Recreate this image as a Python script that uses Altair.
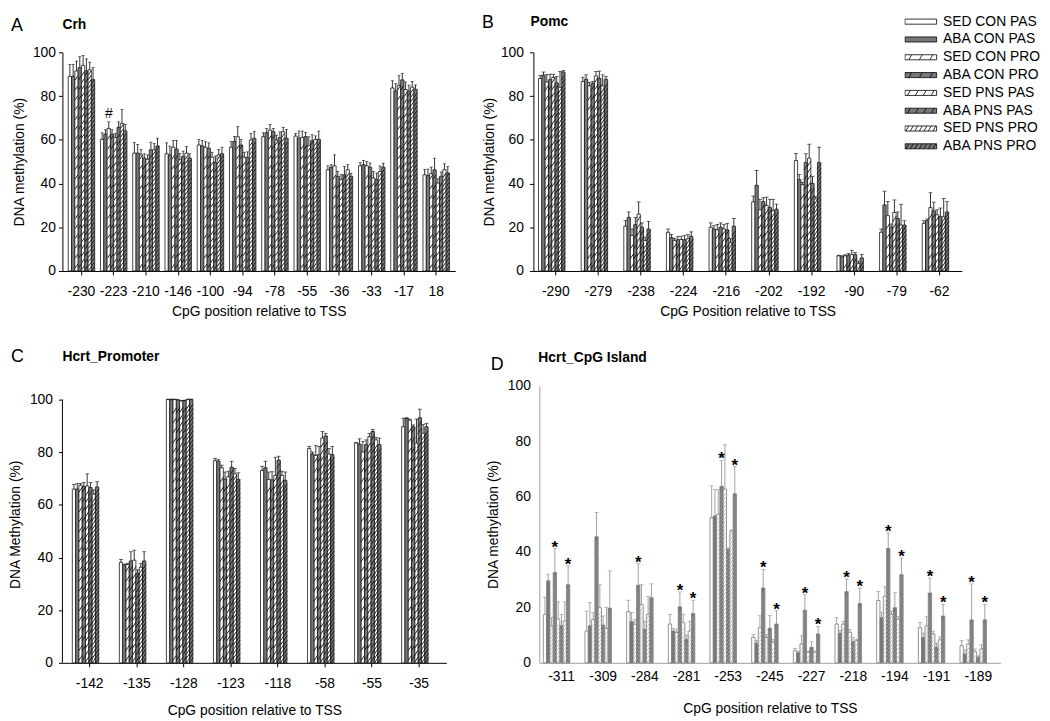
import altair as alt
import pandas as pd

FONT = "Liberation Sans"

SERIES = ["SED CON PAS", "ABA CON PAS", "SED CON PRO", "ABA CON PRO",
          "SED PNS PAS", "ABA PNS PAS", "SED PNS PRO", "ABA PNS PRO"]
FILLS = ["#ffffff", "#787878", "#ffffff", "#787878",
         "#ffffff", "#787878", "#ffffff", "#787878"]
HATCH_STEP_PX = [0, 0, 10, 10, 7, 7, 4.5, 4.5]
LEGEND_SLASHES = [0, 0, 3, 3, 4, 4, 7, 7]

# ---------------- Panel A : Crh ----------------
crh_pos = ["-230", "-223", "-210", "-146", "-100", "-94", "-78", "-55", "-36", "-33", "-17", "18"]
crh_mean = [
    [89, 89, 91.5, 93, 94, 91.5, 92, 87.5],
    [60.2, 62.6, 65.2, 62.6, 61, 65.7, 67.5, 64.1],
    [53.9, 53.9, 53.1, 51.6, 51.1, 55.4, 55.4, 57.2],
    [53.6, 53.1, 56.6, 55.7, 50.8, 52.3, 53.9, 51.6],
    [57.6, 57.2, 56.6, 56.1, 52, 49.6, 53.1, 53.6],
    [56.6, 59.2, 61.4, 57.6, 52, 52, 59.9, 60.7],
    [61.4, 63.2, 64.4, 63.7, 59.9, 61, 63.7, 60.7],
    [61.7, 60.7, 61.1, 61.4, 57.2, 59.6, 60.2, 60.2],
    [46.3, 47.5, 48.1, 43.3, 41.8, 44, 46.3, 43.3],
    [48.1, 48.6, 48.1, 47.4, 42.5, 41.8, 45.5, 47.5],
    [83.7, 82.3, 84.9, 87.4, 83, 82.3, 84.1, 83.1],
    [44, 43.6, 44.5, 46.3, 40.2, 43.3, 46.3, 44.8],
]
crh_err = [
    [5.5, 5.5, 4.5, 5, 4.5, 5.5, 3.5, 5.5],
    [3, 2, 3, 2, 2, 2.5, 6.3, 3],
    [4.8, 4, 2.5, 2, 2, 3.5, 3, 3.5],
    [5, 4, 3, 4, 3, 2.5, 3, 2],
    [2.6, 2.5, 2.5, 2.5, 2.3, 3, 2.5, 3],
    [2.6, 2.3, 4.6, 2.6, 2.3, 2.5, 3, 3],
    [1.8, 2, 2.6, 1.5, 2.2, 2.6, 2, 4],
    [1.2, 3.3, 2.9, 2, 4.2, 2.7, 1.6, 3.8],
    [1.8, 1.1, 5, 2.3, 2.3, 3.8, 2.3, 1.4],
    [1.5, 2, 2, 2, 3, 3, 2.5, 1.8],
    [3.3, 3.4, 4.4, 3, 3.4, 2.7, 2.6, 2],
    [2.5, 3, 3, 5.3, 2, 2, 2.7, 3],
]
crh_marks = [[], [2], [], [], [], [], [], [], [], [], [], []]

# ---------------- Panel B : Pomc ----------------
pomc_pos = ["-290", "-279", "-238", "-224", "-216", "-202", "-192", "-90", "-79", "-62"]
pomc_mean = [
    [88, 89.5, 86.5, 87.5, 88.5, 86, 84, 91],
    [86.6, 87.7, 84.7, 85.7, 89.2, 88.1, 84.7, 87.7],
    [20.5, 24.5, 16.2, 21.2, 26, 20, 14, 19.2],
    [17.7, 15.2, 14, 14.3, 14.4, 14.3, 14.7, 15.9],
    [20, 19.2, 18.8, 20, 19.2, 18.8, 12.9, 20.5],
    [31.6, 39.2, 28, 31.7, 30, 29, 27.5, 28.3],
    [50.5, 41.8, 39.5, 49.6, 51.6, 40, 33, 49.6],
    [6.9, 6.5, 6.9, 7.2, 7.5, 7.5, 3.5, 6],
    [17.7, 30.2, 25.3, 20, 26.8, 24, 21, 21],
    [21.8, 23, 29, 27.5, 25.7, 24.8, 24.8, 27],
]
pomc_err = [
    [1.5, 1.5, 3.4, 2.5, 1.5, 3, 7.2, 0.6],
    [2, 2, 1.5, 1, 2, 3.3, 5, 1.2],
    [2.5, 2.5, 3, 3.2, 5.6, 2, 1.5, 3.5],
    [1.5, 1.5, 1, 1.5, 1.5, 2, 2, 2],
    [2, 1.5, 2.5, 2, 2, 3, 2, 3.5],
    [2.7, 6.8, 4.8, 1.8, 3.8, 3.8, 5.3, 2.3],
    [3.3, 2.3, 1, 4, 6.4, 3.3, 1, 7],
    [0.3, 0.5, 0.5, 0.8, 2, 1, 1, 1.5],
    [1.5, 6.3, 6.5, 1.5, 5.7, 3, 9.5, 2],
    [1.2, 0.8, 6.8, 4, 2.3, 4, 8.4, 4.7],
]

# ---------------- Panel C : Hcrt promoter ----------------
hcrtp_pos = ["-142", "-135", "-128", "-123", "-118", "-58", "-55", "-35"]
hcrtp_mean = [
    [66, 66, 67.5, 67, 67.2, 66.6, 64.1, 66.8],
    [38.2, 37.2, 37.4, 38.7, 39, 34, 36.3, 38.7],
    [100, 100, 100, 99.8, 99.5, 99.6, 100, 100],
    [76.8, 76.6, 74.1, 69.7, 70.7, 74.3, 71.8, 69.7],
    [73.1, 74.1, 69.7, 69.5, 71.2, 77, 71.2, 69.3],
    [81.4, 79.3, 78.8, 79.1, 85.4, 86.2, 79.3, 79.1],
    [83.5, 83.1, 80.1, 82.9, 85.9, 87.9, 84.7, 82.9],
    [89.7, 92.9, 92.2, 89.7, 83.5, 93.1, 87.2, 89.7],
]
hcrtp_err = [
    [1.8, 2.1, 0.6, 1.5, 4.6, 1.9, 1.6, 2],
    [1.1, 0.3, 0.4, 3.5, 3.8, 1.3, 1.5, 3.5],
    [0.2, 0.2, 0.2, 0.2, 0.2, 0.2, 0.2, 0.2],
    [0.9, 0.6, 1, 2.8, 2.1, 2.3, 2, 2.5],
    [1.6, 2.5, 2.8, 3.1, 6.9, 1.5, 1.6, 3.2],
    [0.8, 0.8, 3.8, 3.1, 2.5, 1, 2.1, 3.1],
    [0.2, 2, 4, 1.8, 1.3, 0.8, 0.9, 2.5],
    [3.2, 0.2, 0.4, 0.7, 9.1, 3.3, 3.4, 1.3],
]

# ---------------- Panel D : Hcrt CpG island ----------------
hcrtc_pos = ["-311", "-309", "-284", "-281", "-253", "-245", "-227", "-218", "-194", "-191", "-189"]
hcrtc_mean = [
    [17.5, 29.6, 13.3, 32.6, 15.8, 13.4, 15.1, 28.2],
    [11.5, 13.4, 15.6, 45.5, 19.9, 13.6, 12.4, 19.7],
    [18.5, 14.9, 13.9, 28, 21, 12.1, 17.5, 23.5],
    [14, 11.5, 11, 20.2, 14.5, 8.5, 11.5, 17.8],
    [52.4, 53, 53.6, 63.7, 62.7, 41, 47.5, 61],
    [9.2, 7.1, 12.7, 27, 9.2, 12.5, 7.4, 14],
    [4.4, 3.6, 6.8, 19, 3.8, 5.6, 3.8, 10.4],
    [14, 10.7, 14, 25.7, 11, 7.6, 8, 21.4],
    [22.5, 16.3, 24, 41.3, 17.5, 19.9, 15.7, 31.8],
    [12.7, 9.2, 13.3, 25.2, 10.4, 5.6, 8.3, 16.9],
    [6.2, 3.2, 6.8, 15.5, 4, 2, 5, 15.5],
]
hcrtc_err = [
    [6.2, 2.4, 3, 8.6, 6.2, 4.1, 6.9, 6.8],
    [7.2, 8.3, 2.5, 8.8, 8.3, 3.3, 7.6, 13.5],
    [4.1, 3.3, 1.8, 7.8, 7.2, 2.9, 6.5, 5],
    [3.5, 1, 1, 5.4, 3, 1.5, 3.5, 4.8],
    [11.5, 9.6, 9, 9.4, 16, 0.5, 0.5, 9.8],
    [1, 1, 4.3, 6.7, 1, 4.6, 1, 4.8],
    [0.8, 0.5, 3, 5.6, 0.5, 2, 0.5, 2.7],
    [2.3, 1, 1, 4.5, 1, 1.5, 0.5, 5.6],
    [3.3, 2, 3.5, 5.6, 1, 5.4, 1, 6],
    [1.8, 1.5, 3.3, 5.4, 1, 1.5, 1, 4.2],
    [1.8, 1.5, 1.5, 13, 1, 0.5, 1.5, 5.6],
]
hcrtc_marks = [[3, 7], [], [3], [3, 7], [3, 7], [3, 7], [3, 7], [3, 7], [3, 7], [3, 7], [3, 7]]


def legend_path(n):
    p = "M-1,-0.16L1,-0.16L1,0.16L-1,0.16Z"
    for k in range(n):
        cx = -1 + 2 * (k + 0.5) / n
        p += f"M{cx - 0.09:.3f},0.16L{cx + 0.09:.3f},-0.16"
    return p


def long_table(pos, mean, err):
    rows = []
    for i, p in enumerate(pos):
        for j, s in enumerate(SERIES):
            rows.append({"pos": p, "series": s, "sidx": j,
                         "mean": mean[i][j], "hi": mean[i][j] + err[i][j]})
    return pd.DataFrame(rows)


def hatch_table(df, ppu, steps, seg_px):
    rows = []
    for r in df.itertuples():
        st = steps[r.sidx]
        if st <= 0:
            continue
        top = r.mean * ppu
        y = st / 2
        while y + seg_px / 2 <= top:
            rows.append({"pos": r.pos, "series": r.series, "hy": y / ppu})
            y += st
    return pd.DataFrame(rows)


def mark_table(df, pos, marks):
    rows = []
    for i, p in enumerate(pos):
        for j in marks[i]:
            r = df[(df.pos == p) & (df.sidx == j)].iloc[0]
            rows.append({"pos": p, "series": r.series, "hi": r.hi})
    return pd.DataFrame(rows)


def panel(pos, mean, err, *, w, h, ymax, pi, po, bar_w, title, title_xy, letter, lxy,
          yaxis, xaxis, ytitle, xtitle, hatch_color, hatch_w, hatch_steps,
          err_color, bar_stroke, marks=None, mark_char="*", mark_size=17,
          mark_weight="bold", mark_dy=3, legend=None, yline=False):
    df = long_table(pos, mean, err)
    ppu = h / ymax
    seg = 1.5 * (bar_w - 0.6)
    hdf = hatch_table(df, ppu, hatch_steps, seg)

    xs = alt.Scale(domain=pos, paddingInner=pi, paddingOuter=po)
    X = alt.X("pos:N", scale=xs, axis=xaxis, title=xtitle)
    XO = alt.XOffset("series:N", scale=alt.Scale(domain=SERIES, paddingInner=0, paddingOuter=0))
    ysc = alt.Scale(domain=[0, ymax], nice=False, zero=True)

    def Y(f):
        return alt.Y(f, scale=ysc, axis=yaxis, title=ytitle)

    fill_scale = alt.Scale(domain=SERIES, range=FILLS)

    bars = alt.Chart(df).mark_bar(stroke=bar_stroke, strokeWidth=0.8).encode(
        x=X, xOffset=XO, y=Y("mean:Q"),
        fill=alt.Fill("series:N", scale=fill_scale,
                      legend=legend if legend is not None else None))
    hatch = alt.Chart(hdf).mark_point(
        shape="M-1,1.5L1,-1.5", filled=False, stroke=hatch_color,
        strokeWidth=hatch_w, size=(bar_w - 0.6) ** 2, opacity=1).encode(
        x=X, xOffset=XO, y=Y("hy:Q"))
    erule = alt.Chart(df).mark_rule(color=err_color, strokeWidth=0.8).encode(
        x=X, xOffset=XO, y=Y("mean:Q"), y2="hi:Q")
    ecap = alt.Chart(df).mark_tick(color=err_color, thickness=0.8, size=bar_w - 0.4).encode(
        x=X, xOffset=XO, y=Y("hi:Q"))
    layers = [bars, hatch, erule, ecap]

    if marks is not None:
        mdf = mark_table(df, pos, marks)
        layers.append(alt.Chart(mdf).mark_text(
            text=mark_char, font=FONT, fontSize=mark_size, fontWeight=mark_weight,
            baseline="alphabetic", dy=mark_dy, color="black").encode(
            x=X, xOffset=XO, y=Y("hi:Q")))

    if yline:
        ldf = pd.DataFrame({"lo": [0], "top": [100]})
        layers.append(alt.Chart(ldf).mark_rule(color="black", strokeWidth=1).encode(
            x=alt.value(0), y=Y("lo:Q"), y2="top:Q"))

    ldf2 = pd.DataFrame({"letter": [letter], "title": [title]})
    layers.append(alt.Chart(ldf2).mark_text(
        align="left", baseline="middle", font=FONT, fontSize=18, color="black").encode(
        text="letter:N", x=alt.value(lxy[0]), y=alt.value(lxy[1])))
    layers.append(alt.Chart(ldf2).mark_text(
        align="left", baseline="middle", font=FONT, fontSize=14, fontWeight="bold",
        color="black").encode(
        text="title:N", x=alt.value(title_xy[0]), y=alt.value(title_xy[1])))

    if legend is not None:
        shape_scale = alt.Scale(domain=SERIES, range=[legend_path(n) for n in LEGEND_SLASHES])
        dummy = alt.Chart(df).transform_filter("datum.mean < 0").mark_point(
            filled=True, stroke="black", strokeWidth=0.8, opacity=1).encode(
            x=X, xOffset=XO, y=Y("mean:Q"),
            fill=alt.Fill("series:N", scale=fill_scale, legend=legend),
            shape=alt.Shape("series:N", scale=shape_scale, legend=legend))
        layers.append(dummy)

    return alt.layer(*layers).properties(width=w, height=h)


TICKS = [0, 20, 40, 60, 80, 100]


def std_yaxis(label_pad, title_pad, domain=True):
    return alt.Axis(values=TICKS, domain=domain, domainColor="black", domainWidth=1,
                    ticks=True, tickColor="black", tickSize=4, tickWidth=1,
                    labelPadding=label_pad, titlePadding=title_pad, grid=False)


def std_xaxis(label_pad, title_pad):
    return alt.Axis(domainColor="black", domainWidth=1, ticks=True, tickColor="black",
                    tickSize=4, tickWidth=1, labelAngle=0, labelPadding=label_pad,
                    titlePadding=title_pad, grid=False)


legendB = alt.Legend(orient="none", legendX=375, legendY=-40, title=None,
                     labelFont=FONT, labelFontSize=14, labelColor="black",
                     symbolType=legend_path(0),
                     symbolSize=1024, symbolStrokeColor="black", symbolStrokeWidth=0.8,
                     clipHeight=18, rowPadding=0, labelOffset=6, labelLimit=300, padding=0)

A = panel(crh_pos, crh_mean, crh_err, w=397, h=221, ymax=100, pi=0.18, po=0.18, bar_w=3.4,
          title="Crh", title_xy=(0, -28), letter="A", lxy=(-52, -27),
          yaxis=std_yaxis(3, 6), xaxis=std_xaxis(10, 6),
          ytitle="DNA methylation (%)", xtitle="CpG position relative to TSS",
          hatch_color="#111111", hatch_w=0.9, hatch_steps=HATCH_STEP_PX,
          err_color="black", bar_stroke="#1a1a1a", marks=crh_marks, mark_char="#",
          mark_size=14, mark_weight="normal", mark_dy=-4)

B = panel(pomc_pos, pomc_mean, pomc_err, w=433, h=221, ymax=100, pi=0.19, po=0.12, bar_w=4.4,
          title="Pomc", title_xy=(-3, -31), letter="B", lxy=(-52, -30),
          yaxis=std_yaxis(6, 4), xaxis=std_xaxis(10, 6),
          ytitle="DNA methylation (%)", xtitle="CpG Position relative to TSS",
          hatch_color="#111111", hatch_w=0.9, hatch_steps=HATCH_STEP_PX,
          err_color="black", bar_stroke="#1a1a1a", legend=legendB)

C = panel(hcrtp_pos, hcrtp_mean, hcrtp_err, w=388, h=280, ymax=105.26, pi=0.26, po=0.21,
          bar_w=4.4, title="Hcrt_Promoter", title_xy=(0, -29), letter="C", lxy=(-52, -29),
          yaxis=std_yaxis(6, 7, domain=False), xaxis=std_xaxis(10, 13),
          ytitle="DNA Methylation (%)", xtitle="CpG position relative to TSS",
          hatch_color="#111111", hatch_w=0.9, hatch_steps=HATCH_STEP_PX,
          err_color="black", bar_stroke="#1a1a1a", yline=True)

d_yaxis = alt.Axis(values=TICKS, domain=True, domainColor="#a0a0a0", domainWidth=1,
                   ticks=False, tickSize=0, labelPadding=9, titlePadding=7, grid=False)
d_xaxis = alt.Axis(domainColor="#a0a0a0", domainWidth=1, ticks=False, tickSize=0,
                   labelAngle=0, labelPadding=7, titlePadding=18, grid=False)

D = panel(hcrtc_pos, hcrtc_mean, hcrtc_err, w=466, h=280, ymax=100, pi=0.125, po=0.095,
          bar_w=4.6, title="Hcrt_CpG Island", title_xy=(-1, -28), letter="D", lxy=(-49, -21),
          yaxis=d_yaxis, xaxis=d_xaxis,
          ytitle="DNA methylation (%)", xtitle="CpG position relative to TSS",
          hatch_color="#a8a8a8", hatch_w=0.6, hatch_steps=[0, 0, 4, 4, 4, 4, 4, 4],
          err_color="#8a8a8a", bar_stroke="#7a7a7a", marks=hcrtc_marks, mark_char="*",
          mark_size=17, mark_weight="bold", mark_dy=4)

top = alt.hconcat(A, B, spacing=25).resolve_scale(fill="independent", shape="independent")
bottom = alt.hconcat(C, D, spacing=39).resolve_scale(fill="independent", shape="independent")

chart = alt.vconcat(top, bottom, spacing=28).resolve_scale(
    fill="independent", shape="independent"
).properties(padding=0).configure(font=FONT).configure_view(
    stroke="transparent"
).configure_axis(
    labelFont=FONT, titleFont=FONT, labelFontSize=14, titleFontSize=14,
    labelColor="black", titleColor="black", titleFontWeight="normal"
)

chart.save("out.html", embed_options={"renderer": "svg", "actions": False})
